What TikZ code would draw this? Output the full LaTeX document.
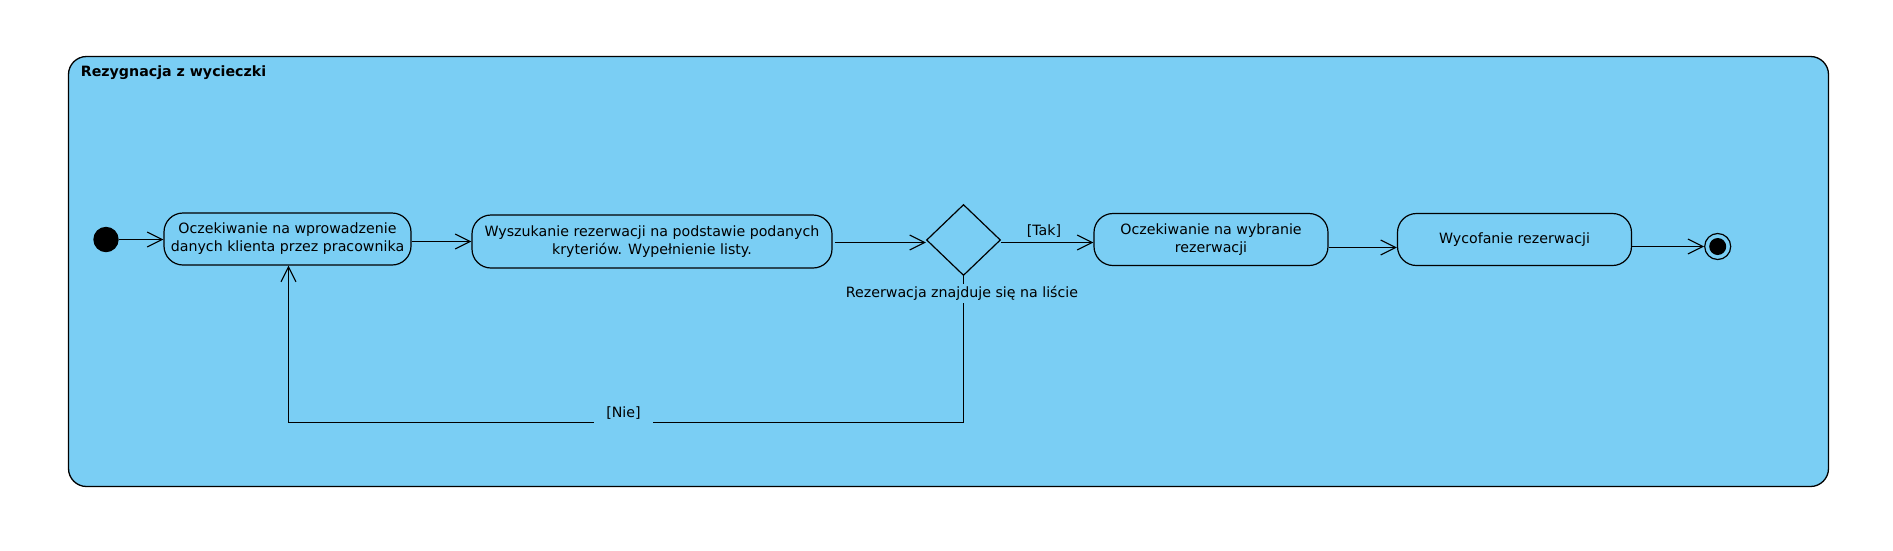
\documentclass[tikz,border=0pt]{standalone}
\usepackage{fontspec}
\setmainfont{DejaVu Sans}
\usetikzlibrary{shapes.geometric,arrows.meta}
\definecolor{bgblue}{RGB}{122,206,244}
\tikzset{
  act/.style={draw, fill=bgblue, rounded corners=19pt, line width=1.2pt, align=center, inner sep=0pt, font=\fontsize{14.2}{18}\selectfont},
  arr/.style={line width=1.1pt, -{Straight Barb[length=15pt,width=15pt,line width=1.1pt]}},
  ln/.style={line width=1.1pt},
  lbl/.style={font=\fontsize{14.2}{18}\selectfont},
}
\begin{document}
\begin{tikzpicture}[x=1pt,y=-1pt]
\useasboundingbox (0,0) rectangle (1893,550);
\node[draw, fill=bgblue, rounded corners=18pt, line width=1.3pt, minimum width=1760pt, minimum height=430pt, inner sep=0pt] (frame) at (948.5,271.5) {};
\node[anchor=base west, font=\fontsize{14.2}{18}\selectfont\bfseries, inner sep=0pt] (title) at (80.7,76.7) {Rezygnacja z wycieczki};

\node[circle, fill=black, minimum size=25.4pt, inner sep=0pt] (init) at (106,239.5) {};
\node[act, minimum width=247pt, minimum height=52pt] (n1) at (287.5,239) {Oczekiwanie na wprowadzenie\\danych klienta przez pracownika};
\node[act, minimum width=360pt, minimum height=53pt] (n2) at (652,241.5) {Wyszukanie rezerwacji na podstawie podanych\\kryteriów. Wypełnienie listy.};
\node[diamond, draw, fill=bgblue, line width=1.2pt, minimum width=74pt, minimum height=71pt, inner sep=0pt] (dec) at (963.5,240) {};
\node[act, minimum width=234pt, minimum height=52pt] (n3) at (1211,239.5) {Oczekiwanie na wybranie\\rezerwacji};
\node[act, minimum width=234pt, minimum height=52pt] (n4) at (1514.5,239.5) {Wycofanie rezerwacji};
\node[circle, draw, fill=bgblue, line width=1.2pt, minimum size=26pt, inner sep=0pt] (final) at (1717.7,246.5) {};
\node[circle, fill=black, minimum size=17pt, inner sep=0pt] (finaldot) at (final.center) {};

\coordinate (s1) at ([yshift=-2.5pt]n1.east);
\coordinate (s2) at ([xshift=2pt,yshift=-1pt]n2.east);
\coordinate (s3) at ([yshift=-2.5pt]dec.east);
\coordinate (s4) at ([yshift=-8pt]n3.east);
\coordinate (c1) at (963.5,422.5);
\coordinate (c2) at (288.5,422.5);

\draw[arr] (init.east) -- (n1.west |- init.east);
\draw[arr] (s1) -- (n2.west |- s1);
\draw[arr] (s2) -- (dec.west |- s2);
\draw[arr] (s3) -- (n3.west |- s3);
\draw[arr] (s4) -- (n4.west |- s4);
\draw[arr] (n4.east |- final.west) -- (final.west);
\draw[ln] (dec.south) -- (c1) -- (c2);
\draw[arr] (c2) -- (n1.south -| c2);

\node[lbl, fill=bgblue, inner xsep=3pt, inner ysep=2.5pt] (declbl) at (962,293.5) {Rezerwacja znajduje się na liście};
\node[lbl, fill=bgblue, inner xsep=12pt, inner ysep=4pt] (nie) at (623.5,413) {[Nie]};
\node[lbl, inner sep=1pt] (tak) at (1044,231) {[Tak]};
\end{tikzpicture}
\end{document}
